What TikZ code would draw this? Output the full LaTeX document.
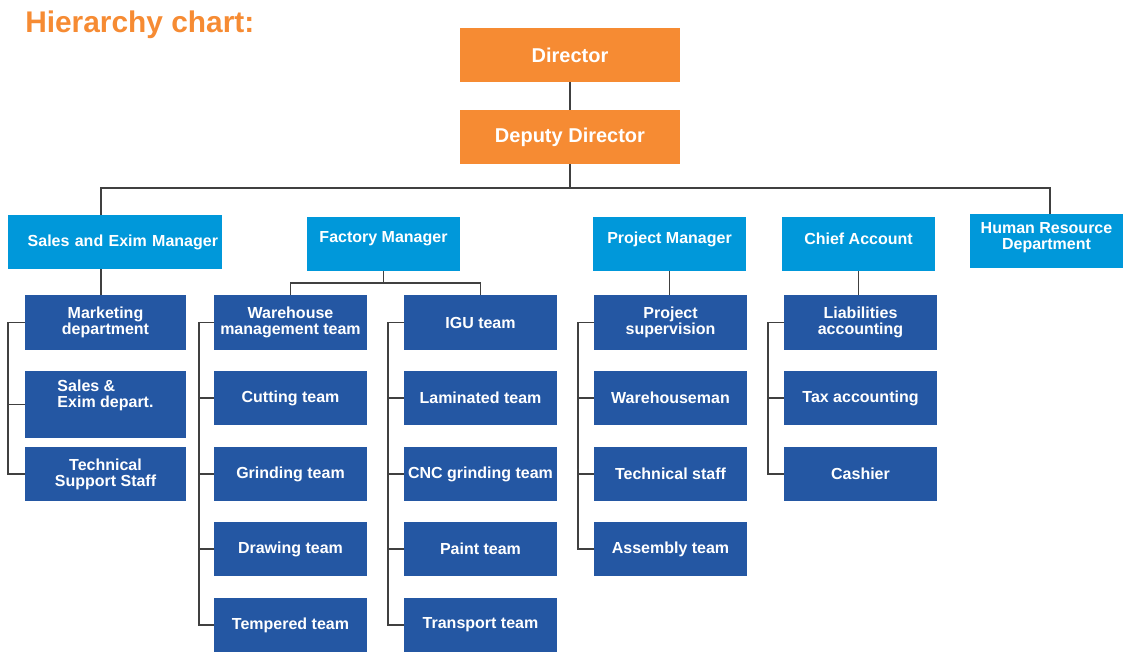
\documentclass[tikz,border=0pt]{standalone}
\usepackage{fontspec}
\setmainfont{Liberation Sans}
\usepackage{tikz}

\definecolor{chartorange}{HTML}{F68B33}
\definecolor{mgrblue}{HTML}{0098DA}
\definecolor{teamblue}{HTML}{2457A3}
\definecolor{linkgray}{HTML}{404040}

\tikzset{
   topbox/.style={fill=chartorange,text=white,minimum width=165pt,minimum height=40.5pt,
      inner sep=0pt,font=\fontsize{15}{15}\selectfont\bfseries},
   mgrbox/.style={fill=mgrblue,text=white,minimum width=114.75pt,minimum height=40.5pt,
      inner sep=0pt,align=center,font=\fontsize{12}{12}\selectfont\bfseries},
   teambox/.style={fill=teamblue,text=white,minimum width=114.75pt,minimum height=41pt,
      inner sep=0pt,align=center,font=\fontsize{12}{12}\selectfont\bfseries},
   link/.style={draw=linkgray,line width=1.2pt}
}

\begin{document}
\begin{tikzpicture}
   [x=0.75pt,y=-0.75pt]
   \useasboundingbox (0,0) rectangle (1127,654);

   \node[anchor=base west,inner sep=0pt,text=chartorange,font=\fontsize{22.4}{22.4}\selectfont\bfseries]
      (title) at (25,32) {Hierarchy chart:};

   \node[topbox] (dir) at (570,55) {Director};
   \node[topbox] (dep) at (570,137) {Deputy Director};

   \node[mgrbox,minimum width=160.5pt,text width=154.5pt,align=right] (sales) at (115,242)
      {Sales and Exim Manager};
   \node[mgrbox,text depth=10pt] (fac) at (383.5,244) {Factory Manager};
   \node[mgrbox,text depth=10pt] (proj) at (669.5,244) {Project Manager};
   \node[mgrbox,text depth=7.5pt] (chief) at (858.5,244) {Chief Account};
   \node[mgrbox,text depth=7.7pt] (hr) at (1046.5,241) {Human Resource\\Department};

   \begin{scope}[teambox/.append style={minimum width=120.75pt}]
      \node[teambox] (mkt) at (105.5,322.5) {Marketing\\department};
      \node[teambox,minimum height=50.25pt,align=left,text depth=16.7pt] (se) at (105.5,404.5)
         {Sales \&\\Exim depart.};
      \node[teambox] (tss) at (105.5,474) {Technical\\Support Staff};
   \end{scope}

   \node[teambox] (wh) at (290.5,322.5) {Warehouse\\management team};
   \node[teambox] (cut) at (290.5,398) {Cutting team};
   \node[teambox] (grind) at (290.5,474) {Grinding team};
   \node[teambox] (drw) at (290.5,549) {Drawing team};
   \node[teambox] (temp) at (290.5,625) {Tempered team};

   \node[teambox] (igu) at (480.5,322.5) {IGU team};
   \node[teambox] (lam) at (480.5,398) {Laminated team};
   \node[teambox] (cnc) at (480.5,474) {CNC grinding team};
   \node[teambox] (paint) at (480.5,549) {Paint team};
   \node[teambox] (trans) at (480.5,625) {Transport team};

   \node[teambox] (ps) at (670.5,322.5) {Project\\supervision};
   \node[teambox] (wm) at (670.5,398) {Warehouseman};
   \node[teambox] (ts) at (670.5,474) {Technical staff};
   \node[teambox] (asm) at (670.5,549) {Assembly team};

   \node[teambox] (liab) at (860.5,322.5) {Liabilities\\accounting};
   \node[teambox] (tax) at (860.5,398) {Tax accounting};
   \node[teambox] (cash) at (860.5,474) {Cashier};

   \coordinate (bus) at (570,188);
   \draw[link] (dir) -- (dep);
   \draw[link] (dep) -- (bus);
   \draw[link] ([xshift=-10.5pt]sales.north) |- (bus) -| ([xshift=2.6pt]hr.north);
   \draw[link] ([xshift=-10.5pt]sales.south) -- ([xshift=-10.5pt]sales.south |- mkt.north);

   \draw[link] (fac.south) -- ++(0,12) coordinate (fbus);
   \draw[link] (wh.north) |- (fbus) -| (igu.north);
   \draw[link] (proj.south) -- (proj.south |- ps.north);
   \draw[link] (chief.south) -- (chief.south |- liab.north);

   \draw[link] (mkt.west) -- ++(-17,0) |- (tss.west);
   \draw[link] (se.west) -- ++(-17,0);

   \draw[link] (wh.west) -- ++(-15,0) |- (temp.west);
   \draw[link] (cut.west) -- ++(-15,0);
   \draw[link] (grind.west) -- ++(-15,0);
   \draw[link] (drw.west) -- ++(-15,0);

   \draw[link] (igu.west) -- ++(-16,0) |- (trans.west);
   \draw[link] (lam.west) -- ++(-16,0);
   \draw[link] (cnc.west) -- ++(-16,0);
   \draw[link] (paint.west) -- ++(-16,0);

   \draw[link] (ps.west) -- ++(-16,0) |- (asm.west);
   \draw[link] (wm.west) -- ++(-16,0);
   \draw[link] (ts.west) -- ++(-16,0);

   \draw[link] (liab.west) -- ++(-16,0) |- (cash.west);
   \draw[link] (tax.west) -- ++(-16,0);
\end{tikzpicture}
\end{document}
